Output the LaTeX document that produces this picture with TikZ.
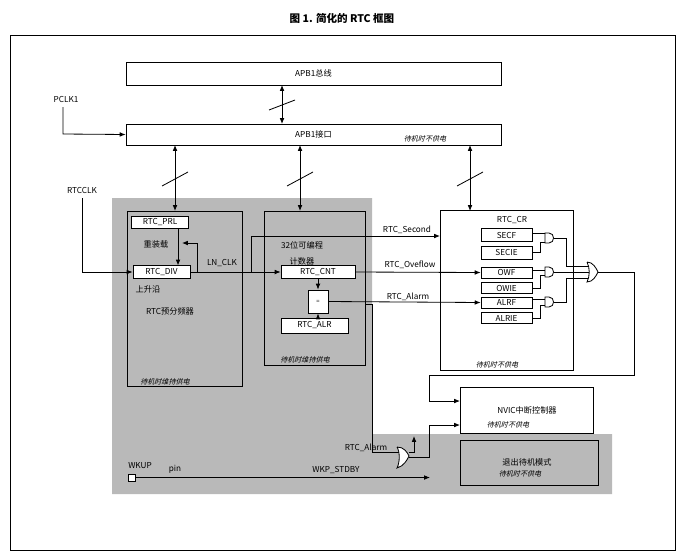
\documentclass[tikz,border=0pt]{standalone}
\usepackage{fontspec}
\setmainfont{Noto Sans CJK SC}
\newfontfamily\itcjk[FakeSlant=0.25]{Noto Sans CJK SC}
\usetikzlibrary{arrows.meta}
\begin{document}
\begin{tikzpicture}[x=0.03cm,y=-0.03cm,
  every node/.style={font=\fontsize{7}{8}\selectfont,inner sep=0pt},
  box/.style={draw,line width=0.7pt,fill=white},
  reg/.style={draw,line width=0.7pt,fill=white},
  it/.style={font=\fontsize{6}{7}\selectfont\itcjk},
  ar/.style={-{Latex[length=5pt,width=4pt]},line width=0.7pt},
  ln/.style={line width=0.7pt},
  bi/.style={{Latex[length=5pt,width=4pt]}-{Latex[length=5pt,width=4pt]},line width=0.7pt}]
\useasboundingbox (0,0) rectangle (685,557);
\node[font=\fontsize{9}{10}\selectfont\bfseries] (title) at (342,18) {图 1. 简化的 RTC 框图};
\draw[line width=0.7pt] (10,35) rectangle (675,550);
% gray region
\fill[gray!55] (112,198) -- (372,198) -- (372,434) -- (612,434) -- (612,494) -- (112,494) -- cycle;
% APB boxes
\node[box,minimum width=375*0.03cm,minimum height=23*0.03cm] (bus) at (313.5,73.5) {APB1总线};
\node[box,minimum width=375*0.03cm,minimum height=21*0.03cm] (itf) at (313.5,134.5) {APB1接口};
\node[it] at (425,139) {待机时不供电};
\draw[bi] (282,85) -- (282,124); \draw[ln] (269,110) -- (295,100);
\foreach \x in {175,300,470}{\draw[bi] (\x,145) -- (\x,211); \draw[ln] (\x-13,186) -- (\x+13,172);}
\node (pclk) at (66,99) {PCLK1};
\draw[ar] (63,107) -- (63,134) -- (itf.west);
\node (rtcclk) at (82,190) {RTCCLK};
% prescaler box
\draw[ln] (127,211) rectangle (242,386);
\node[reg,minimum width=57*0.03cm,minimum height=12*0.03cm] (prl) at (160,222.5) {RTC\_PRL};
\node[reg,minimum width=57*0.03cm,minimum height=13*0.03cm] (div) at (161.5,272) {RTC\_DIV};
\node (reload) at (156,244) {重装载};
\node at (148,289) {上升沿};
\node at (170,311) {RTC预分频器};
\node[it] at (165,382) {待机时维持供电};
\draw[ar] (82,198) -- (82,272) -- (div.west);
\draw[ar] (178,229) -- (178,265.5);
\draw[ar] (190,272) -- (197,272) -- (197,243) -- (182,243);
\node (lnclk) at (222,263) {LN\_CLK};
% counter box
\draw[ln] (264,211) rectangle (365,365);
\node at (302,245) {32位可编程};
\node at (302,261) {计数器};
\node[reg,minimum width=74*0.03cm,minimum height=13*0.03cm] (cnt) at (318,272) {RTC\_CNT};
\node[reg,minimum width=20*0.03cm,minimum height=23*0.03cm] (eq) at (318,301.5) {\tiny =};
\node[reg,minimum width=67*0.03cm,minimum height=15*0.03cm] (alr) at (314.5,325.5) {RTC\_ALR};
\node[it] at (305,360) {待机时维持供电};
\draw[ar] (div.east) -- (cnt.west);
\draw[ar] (cnt.south) -- (eq.north);
\draw[ar] (318,318) -- (eq.south);
% CR box
\draw[ln,fill=white] (440,210) rectangle (573,370);
\node at (512,220) {RTC\_CR};
\node[reg,minimum width=51*0.03cm,minimum height=13*0.03cm] (secf) at (506.5,235) {SECF};
\node[reg,minimum width=51*0.03cm,minimum height=13*0.03cm] (secie) at (506.5,252.5) {SECIE};
\node[reg,minimum width=51*0.03cm,minimum height=11*0.03cm] (owf) at (506.5,272.5) {OWF};
\node[reg,minimum width=51*0.03cm,minimum height=11*0.03cm] (owie) at (506.5,288) {OWIE};
\node[reg,minimum width=51*0.03cm,minimum height=11*0.03cm] (alrf) at (506.5,302.5) {ALRF};
\node[reg,minimum width=51*0.03cm,minimum height=11*0.03cm] (alrie) at (506.5,318) {ALRIE};
\node[it] at (497,365) {待机时不供电};
\coordinate (sec) at (440,236);
\draw[ar] (251,272) -- (251,236) -- (sec);
\node[anchor=south] at (407,234) {RTC\_Second};
\draw[ar] (cnt.east) -- (owf.west);
\node[anchor=south] at (410,269) {RTC\_Oveflow};
\draw[ar] (eq.east) -- (alrf.west);
\node[anchor=south] at (408,301) {RTC\_Alarm};
% AND gates
\foreach \y in {238,272,302}{
  \draw[ln] (545,\y-5) -- (549,\y-5) .. controls (555,\y-5) and (555,\y+5) .. (549,\y+5) -- (545,\y+5) -- cycle;
}
\draw[ln] (532,233) -- (545,233); \draw[ln] (532,252) -- (540,252) -- (540,242) -- (545,242);
\draw[ln] (532,270) -- (545,270); \draw[ln] (532,288) -- (540,288) -- (540,275) -- (545,275);
\draw[ln] (532,299) -- (545,299); \draw[ln] (532,318) -- (540,318) -- (540,305) -- (545,305);
% OR gate big
\draw[ln] (554,238) -- (566,238) -- (566,266) -- (589,266);
\draw[ln] (554,272) -- (590,272);
\draw[ln] (554,302) -- (566,302) -- (566,278) -- (589,278);
\draw[ln,fill=white] (587,262) .. controls (593,262) and (596,268) .. (598,272) .. controls (596,276) and (593,282) .. (587,282) .. controls (590,276) and (590,268) .. (587,262);
% NVIC
\node[box,minimum width=133*0.03cm,minimum height=46*0.03cm] (nvic) at (526.5,410) {};
\node at (527,410) {NVIC中断控制器};
\node[it] at (508,425) {待机时不供电};
\draw[ar] (598,272) -- (634,272) -- (634,375) -- (429,375) -- (429,401) -- (460,401);
% standby box
\node[draw,line width=0.7pt,minimum width=138*0.03cm,minimum height=45*0.03cm] (stby) at (529,462.5) {};
\node at (527,462) {退出待机模式};
\node[it] at (520,474) {待机时不供电};
% alarm to gate
\draw[ln] (365,304) -- (372,304) -- (372,452) -- (399,452);
\node[anchor=south] at (366,452) {RTC\_Alarm};
\draw[ln,fill=white] (397,447) .. controls (404,447) and (407,452) .. (409,456) .. controls (407,460) and (404,466) .. (397,468) .. controls (400,462) and (400,452) .. (397,447);
\draw[ar] (409,452) -- (414,452) -- (414,436);
\draw[ar] (409,457) -- (429,457) -- (429,425) -- (460,425);
% WKUP
\draw[ln,fill=white] (128,474) rectangle (135,481);
\node (wk) at (140,466) {WKUP};
\node at (175,469) {pin};
\draw[ar] (135,477.5) -- (430,477.5);
\node at (336,470) {WKP\_STDBY};
\end{tikzpicture}
\end{document}
